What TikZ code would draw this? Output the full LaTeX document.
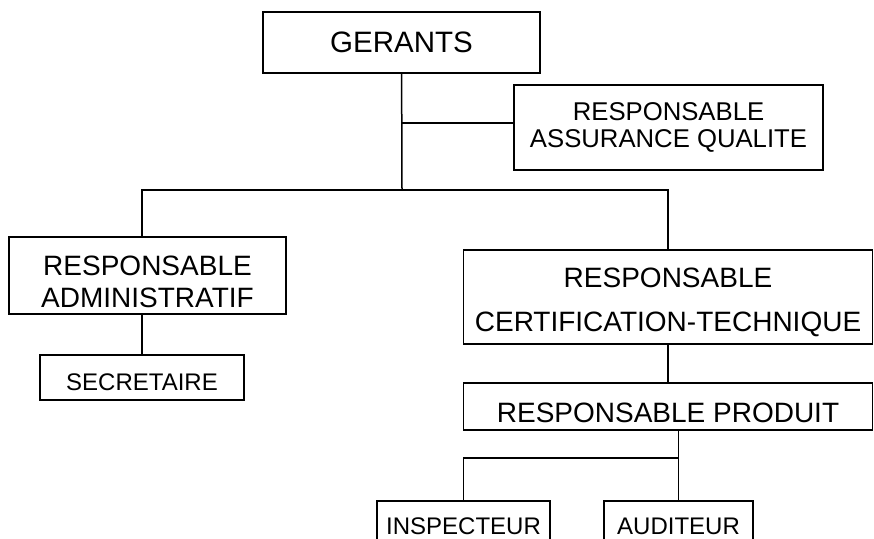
\documentclass[tikz,border=0pt]{standalone}
\usepackage{fontspec}
\setmainfont{Liberation Sans}

\tikzset{
	box/.style={draw, line width=1.5pt, inner sep=0pt, align=center},
	conn/.style={line width=1.5pt},
	big/.style={font=\fontsize{28}{32}\selectfont},
	small/.style={font=\fontsize{24}{27}\selectfont}
}

\begin{document}
\begin{tikzpicture}[x=1pt, y=-1pt]
			\useasboundingbox (0,0) rectangle (874,538);
			
			% top
			\node[box, minimum width=277pt, minimum height=61pt, font=\fontsize{29.5}{33}\selectfont] (ger) at (401.5,42.5) {GERANTS};
			\node[box, minimum width=309pt, minimum height=85pt, font=\fontsize{25.7}{27}\selectfont] (raq) at (668.5,127.5) {RESPONSABLE\\ASSURANCE QUALITE};
			
			% left branch
			\node[box, big, minimum width=277pt, minimum height=77pt, text height=64pt] (ra) at (147.5,275.5) {RESPONSABLE\\ADMINISTRATIF};
			\node[box, small, minimum width=204pt, minimum height=45pt, text height=26pt, text depth=0pt] (sec) at (142,377.5) {SECRETAIRE};
			
			% right branch
			\node[box, font=\fontsize{28}{44}\selectfont, minimum width=409pt, minimum height=94pt, text height=74pt] (rct) at (668,297) {RESPONSABLE\\CERTIFICATION-TECHNIQUE};
			\node[box, big, minimum width=409pt, minimum height=47pt, text height=32pt, text depth=0pt] (rp) at (668,406.5) {RESPONSABLE PRODUIT};
			\node[box, small, minimum width=173pt, minimum height=51pt, anchor=north] (insp) at (463.5,500) {INSPECTEUR};
			\node[box, small, minimum width=149pt, minimum height=51pt, anchor=north] (aud) at (678.5,500) {AUDITEUR};
			
			\coordinate (split) at (402,190);
			\coordinate (qa) at (402,123);
			\coordinate (pp) at (678.5,458);
			
			\draw[conn] (ger) -- (split);
			\draw[conn] (qa) -- (qa -| raq.west);
			\draw[conn] (split) -| (rct.north);
			\draw[conn] (split) -| (sec.north |- ra.north);
			\draw[conn] (ra.south -| sec.north) -- (sec.north);
			\draw[conn] (rct) -- (rp);
			\draw[conn] (rp.south -| aud.north) -- (aud.north);
			\draw[conn] (pp) -| (insp.north);
\end{tikzpicture}
\end{document}
